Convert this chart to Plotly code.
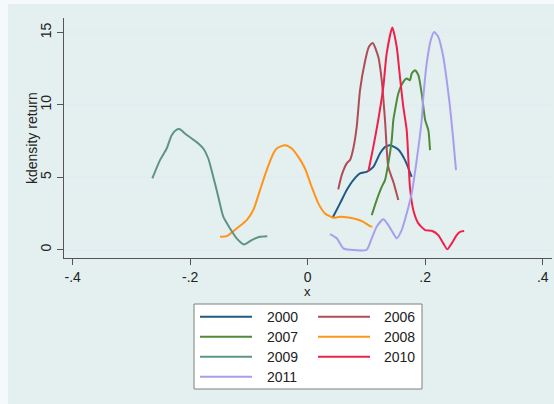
import plotly.graph_objects as go

# ---- data ----
years = ["2000", "2006", "2007", "2008", "2009", "2010", "2011"]

x2000 = [0.0426, 0.055, 0.0664, 0.0776, 0.089, 0.1004, 0.1117, 0.123, 0.132, 0.140, 0.1542, 0.1656, 0.177]
y2000 = [2.23, 3.20, 4.12, 4.81, 5.27, 5.38, 5.72, 6.65, 7.10, 7.22, 6.92, 6.19, 5.03]

x2006 = [0.052, 0.0579, 0.0664, 0.072, 0.0776, 0.0834, 0.089, 0.0975, 0.104, 0.1106, 0.1202, 0.126, 0.1316, 0.1372, 0.1457, 0.1542]
y2006 = [4.17, 5.15, 5.96, 6.19, 6.99, 8.48, 11.0, 13.0, 14.0, 14.28, 13.3, 11.7, 8.94, 5.72, 4.69, 3.43]

x2007 = [0.109, 0.1174, 0.126, 0.1316, 0.1372, 0.143, 0.1457, 0.1486, 0.1542, 0.1627, 0.1685, 0.174, 0.177, 0.1826, 0.1883, 0.194, 0.200, 0.2053, 0.2082]
y2007 = [2.39, 3.43, 4.34, 4.81, 5.96, 7.57, 8.94, 9.63, 10.79, 11.59, 11.82, 11.70, 12.17, 12.39, 12.05, 10.79, 8.94, 8.26, 6.88]

x2008 = [-0.1493, -0.1379, -0.1209, -0.1038, -0.0926, -0.0812, -0.0698, -0.0585, -0.0528, -0.0386, -0.0272, -0.016, -0.0046, 0.0068, 0.018, 0.0294, 0.0436, 0.055, 0.0691, 0.0834, 0.0946, 0.106, 0.110]
y2008 = [0.90, 0.94, 1.47, 2.05, 2.74, 4.12, 5.50, 6.65, 6.99, 7.22, 6.99, 6.41, 5.61, 4.34, 3.20, 2.51, 2.21, 2.28, 2.23, 2.10, 1.93, 1.63, 1.58]

x2009 = [-0.2645, -0.2514, -0.240, -0.2315, -0.223, -0.2174, -0.209, -0.1974, -0.1862, -0.1777, -0.1692, -0.1607, -0.1522, -0.1437, -0.1322, -0.1209, -0.1084, -0.0953, -0.0812, -0.0688]
y2009 = [4.92, 6.19, 6.99, 7.91, 8.30, 8.32, 8.03, 7.68, 7.34, 6.99, 6.30, 5.03, 3.66, 2.28, 1.47, 0.79, 0.37, 0.67, 0.90, 0.94]

x2010 = [0.1032, 0.1117, 0.120, 0.1287, 0.1344, 0.144, 0.1515, 0.157, 0.1627, 0.1685, 0.174, 0.1797, 0.1883, 0.200, 0.2111, 0.2223, 0.2308, 0.2376, 0.2451, 0.2536, 0.2592, 0.2663]
y2010 = [5.40, 7.10, 8.94, 11.24, 13.54, 15.34, 14.0, 11.93, 9.86, 8.26, 4.34, 2.74, 1.82, 1.36, 1.31, 1.01, 0.44, 0.03, 0.44, 1.01, 1.24, 1.29]

x2011 = [0.038, 0.0494, 0.0606, 0.072, 0.1004, 0.109, 0.1174, 0.1287, 0.1372, 0.1457, 0.1515, 0.160, 0.1685, 0.177, 0.1855, 0.194, 0.1968, 0.2025, 0.2094, 0.215, 0.2223, 0.2308, 0.2366, 0.2422, 0.2478, 0.2524]
y2011 = [1.08, 0.79, 0.10, 0.0, 0.0, 0.79, 1.59, 2.10, 1.70, 1.13, 0.79, 1.36, 2.51, 3.89, 6.19, 8.94, 10.55, 12.85, 14.46, 15.03, 14.69, 13.31, 11.70, 9.86, 7.57, 5.50]

series_x = [x2000, x2006, x2007, x2008, x2009, x2010, x2011]
series_y = [y2000, y2006, y2007, y2008, y2009, y2010, y2011]
colors = ["#1f5a85", "#b04c56", "#4f8a3a", "#ff9419", "#5f9484", "#f0204a", "#a79fec"]

x_ticks = [-0.4, -0.2, 0, 0.2, 0.4]
x_tick_text = ["-.4", "-.2", "0", ".2", ".4"]
y_ticks = [0, 5, 10, 15]
x_title = "x"
y_title = "kdensity return"

# ---- layout geometry (pixels) ----
W, H = 554, 404
PL, PR, PT, PB = 64, 552, 18, 258
FONT = "Liberation Sans, Arial, sans-serif"
BG = "#e4eff0"


def px(x):
    return (x - PL) / (PR - PL)


def py(y):
    return (PB - y) / (PB - PT)


fig = go.Figure()
for name, xs, ys, c in zip(years, series_x, series_y, colors):
    fig.add_trace(go.Scatter(x=xs, y=ys, mode="lines", name=name,
                             line=dict(color=c, width=2, shape="spline", smoothing=0.6),
                             showlegend=False))

shapes = [
    # light bluish graph background with a whitish edge at top/left
    dict(type="rect", xref="paper", yref="paper", x0=px(8), x1=px(W + 5), y0=py(4), y1=py(H + 5),
         fillcolor=BG, line=dict(width=0), layer="below"),
    # legend box
    dict(type="rect", xref="paper", yref="paper", x0=px(194), x1=px(422), y0=py(304), y1=py(389),
         fillcolor="white", line=dict(color="#7f7f7f", width=1)),
]
annotations = [
    dict(xref="paper", yref="paper", x=px(32), y=py(138), text=y_title, textangle=-90,
         showarrow=False, xanchor="center", yanchor="middle",
         font=dict(family=FONT, size=14, color="#222222")),
    dict(xref="paper", yref="paper", x=px(307.7), y=py(283), text=x_title,
         showarrow=False, xanchor="center", yanchor="top", borderpad=0,
         font=dict(family=FONT, size=13, color="#222222")),
]

# manual two-column legend (Stata style)
rows = [316.7, 336.7, 356.7, 376.7]
cols = [(200, 252, 265), (318, 370, 382)]
for i, (name, c) in enumerate(zip(years, colors)):
    r, col = divmod(i, 2)
    lx0, lx1, tx = cols[col]
    yy = rows[r]
    shapes.append(dict(type="line", xref="paper", yref="paper", x0=px(lx0), x1=px(lx1),
                       y0=py(yy), y1=py(yy), line=dict(color=c, width=2)))
    annotations.append(dict(xref="paper", yref="paper", x=px(tx), y=py(yy), text=name,
                            showarrow=False, xanchor="left", yanchor="middle",
                            font=dict(family=FONT, size=14, color="#222222")))

fig.update_layout(
    width=W, height=H,
    margin=dict(l=PL, r=W - PR, t=PT, b=H - PB, autoexpand=False),
    paper_bgcolor="#f6f9f9",
    plot_bgcolor="white",
    font=dict(family=FONT, size=13, color="#222222"),
    shapes=shapes,
    annotations=annotations,
    xaxis=dict(range=[-0.4148, 0.4158], tickvals=x_ticks, ticktext=x_tick_text, automargin=False,
               showgrid=False, zeroline=False, showline=True, linecolor="#555555", linewidth=1,
               ticks="outside", ticklen=6, tickcolor="#555555", ticklabeloverflow="allow",
               tickfont=dict(size=14)),
    yaxis=dict(range=[-0.57, 16.0], tickvals=y_ticks, tickangle=-90, automargin=False,
               showgrid=True, gridcolor="#e3edf1", gridwidth=1.5, zeroline=False,
               showline=True, linecolor="#555555", linewidth=1,
               ticks="outside", ticklen=6, tickcolor="#555555",
               tickfont=dict(size=14)),
)

fig.write_html("out.html", config={"displayModeBar": False},
               post_script="document.body.style.margin='0';document.body.style.padding='0';")
